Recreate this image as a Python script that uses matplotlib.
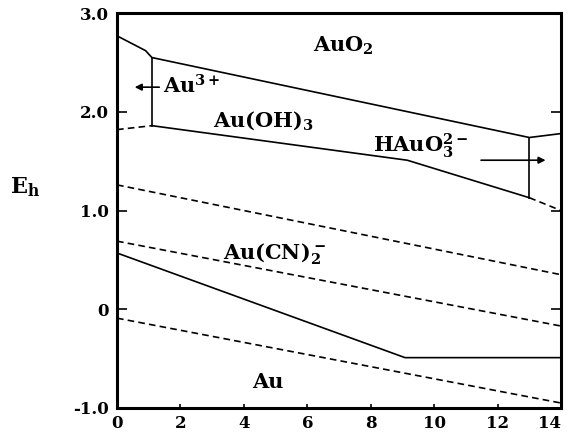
import matplotlib
matplotlib.use("Agg")
import matplotlib.pyplot as plt

plt.rcParams['font.family'] = 'DejaVu Serif'
plt.rcParams['font.weight'] = 'bold'
plt.rcParams['mathtext.fontset'] = 'custom'
plt.rcParams['mathtext.rm'] = 'DejaVu Serif:bold'
plt.rcParams['mathtext.it'] = 'DejaVu Serif:bold'
plt.rcParams['mathtext.bf'] = 'DejaVu Serif:bold'

# boundaries (pH, Eh in V)
ph_top = [0, 0.9, 1.1, 13.0, 14]
eh_top = [2.77, 2.62, 2.55, 1.74, 1.78]

ph_au3 = [1.1, 1.1]
eh_au3 = [2.55, 1.86]

ph_oh_left = [0, 1.1]
eh_oh_left = [1.82, 1.86]
ph_oh = [1.1, 9.15, 13.0]
eh_oh = [1.86, 1.51, 1.13]
ph_oh_right = [13.0, 14]
eh_oh_right = [1.13, 1.00]

ph_hauo3 = [13.0, 13.0]
eh_hauo3 = [1.74, 1.13]

ph_cn = [0, 9.08, 14]
eh_cn = [0.57, -0.49, -0.49]

ph_dash = [0, 14]
eh_dash_o2 = [1.26, 0.35]
eh_dash_mid = [0.69, -0.17]
eh_dash_h2 = [-0.09, -0.95]

x_ticks = [0, 2, 4, 6, 8, 10, 12, 14]
x_ticklabels = ['0', '2', '4', '6', '8', '10', '12', '14']
y_ticks = [-1.0, 0, 1.0, 2.0, 3.0]
y_ticklabels = ['-1.0', '0', '1.0', '2.0', '3.0']

fig = plt.figure(figsize=(5.7, 4.32), dpi=100)
ax = fig.add_axes([0.2053, 0.0556, 0.779, 0.914])

lw = 1.2
dash = (0, (4, 2.5))
ax.plot(ph_top, eh_top, color='black', lw=lw)
ax.plot(ph_au3, eh_au3, color='black', lw=lw)
ax.plot(ph_oh_left, eh_oh_left, color='black', lw=lw, linestyle=dash)
ax.plot(ph_oh, eh_oh, color='black', lw=lw)
ax.plot(ph_oh_right, eh_oh_right, color='black', lw=lw, linestyle=dash)
ax.plot(ph_hauo3, eh_hauo3, color='black', lw=lw)
ax.plot(ph_cn, eh_cn, color='black', lw=lw)
ax.plot(ph_dash, eh_dash_o2, color='black', lw=lw, linestyle=dash)
ax.plot(ph_dash, eh_dash_mid, color='black', lw=lw, linestyle=dash)
ax.plot(ph_dash, eh_dash_h2, color='black', lw=lw, linestyle=dash)

# arrows
ax.annotate('', xy=(0.47, 2.25), xytext=(1.42, 2.25),
            arrowprops=dict(arrowstyle='-|>', color='black', lw=1.2, mutation_scale=10))
ax.annotate('', xy=(13.6, 1.51), xytext=(11.39, 1.51),
            arrowprops=dict(arrowstyle='-|>', color='black', lw=1.2, mutation_scale=10))

fs = 15
ax.text(6.18, 2.61, r'AuO$_2$', fontsize=fs, ha='left', va='baseline')
ax.text(1.45, 2.19, r'Au$^{3+}$', fontsize=fs, ha='left', va='baseline')
ax.text(3.03, 1.85, r'Au(OH)$_3$', fontsize=fs, ha='left', va='baseline')
ax.text(8.08, 1.59, r'HAuO$_3^{2-}$', fontsize=fs, ha='left', va='baseline')
ax.text(3.34, 0.50, r'Au(CN)$_2^-$', fontsize=fs, ha='left', va='baseline')
ax.text(4.26, -0.80, 'Au', fontsize=fs, ha='left', va='baseline')
fig.text(0.0175, 0.553, r'E$_\mathrm{h}$', fontsize=16, ha='left', va='baseline')

ax.set_xlim(0, 14)
ax.set_ylim(-1, 3)
ax.set_xticks(x_ticks)
ax.set_xticklabels(x_ticklabels)
ax.set_yticks(y_ticks)
ax.set_yticklabels(y_ticklabels)
ax.tick_params(axis='y', direction='in', length=7, width=1.2, pad=6,
               labelsize=12, right=True)
ax.tick_params(axis='x', direction='in', length=3, width=1.2, pad=5,
               labelsize=12)
ax.get_xticklabels()[-1].set_horizontalalignment('right')
for s in ax.spines.values():
    s.set_linewidth(2.2)

fig.savefig('out.png', dpi=100)
